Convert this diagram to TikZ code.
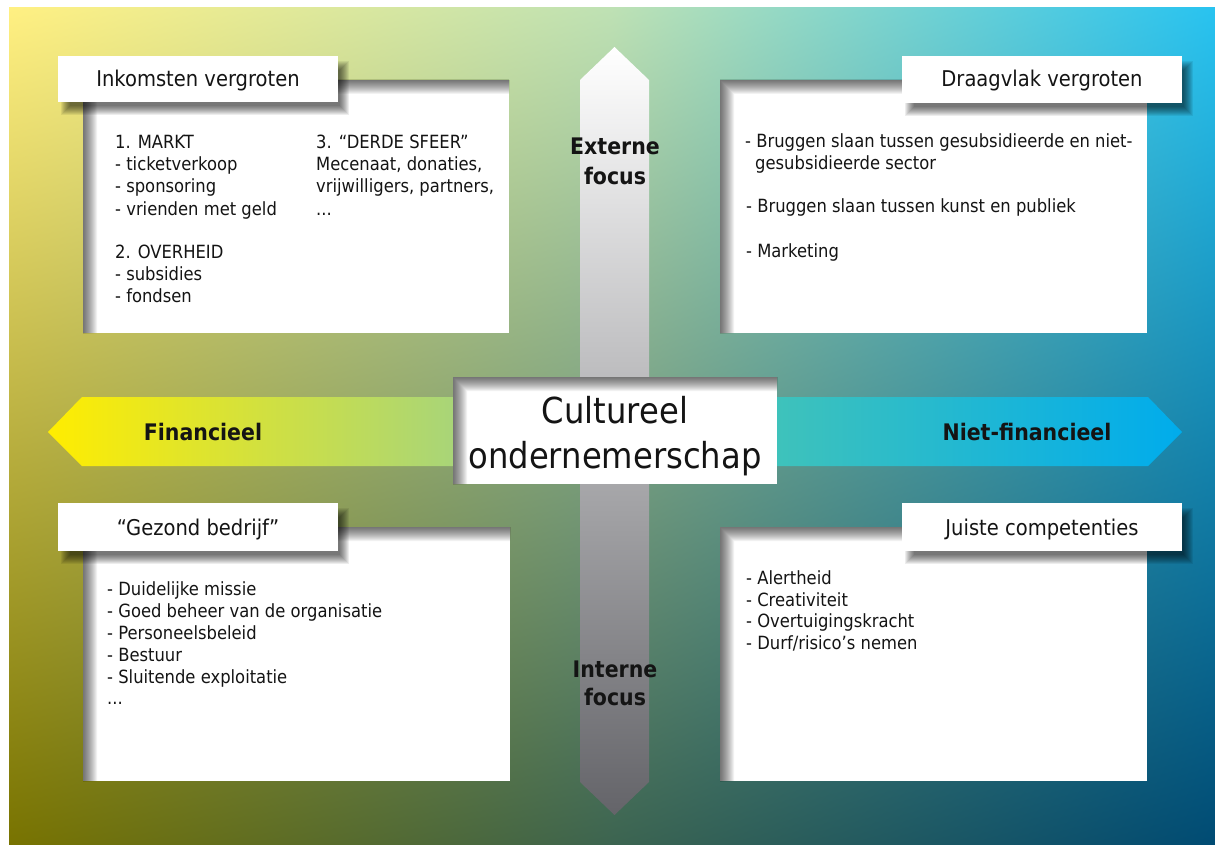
\documentclass[tikz,border=0pt]{standalone}
\usepackage{fontspec}
\usetikzlibrary{shadings}
\setmainfont{DejaVu Sans}[FakeStretch=0.9]
\definecolor{bgTL}{RGB}{255,240,130}
\definecolor{bgTC}{RGB}{190,225,180}
\definecolor{bgTR}{RGB}{40,195,240}
\definecolor{bgBL}{RGB}{120,115,0}
\definecolor{bgBC}{RGB}{60,100,80}
\definecolor{bgBR}{RGB}{0,75,115}
\definecolor{hylw}{RGB}{255,237,0}
\definecolor{hgrn}{RGB}{165,212,125}
\definecolor{hteal}{RGB}{65,195,185}
\definecolor{hblue}{RGB}{0,172,236}
\definecolor{vbot}{RGB}{100,100,105}
\definecolor{ink}{RGB}{20,20,20}
\newcommand{\qbox}[4]{%
  \fill[white] (#1,#2) rectangle (#3,#4);
  \foreach \i in {1,...,14}{%
    \fill[black,opacity=0.05] (#1,#2) rectangle (#3,#2+\i) (#1,#2) rectangle (#1+\i,#4);}%
}
\newcommand{\tbox}[4]{%
  \foreach \i in {0,...,9}{%
    \fill[black,opacity=0.07] (#1+12-\i,#2+14-\i) rectangle (#3+2+\i,#4+4+\i);}%
  \fill[white] (#1,#2) rectangle (#3,#4);
}
\begin{document}
\begin{tikzpicture}[x=1pt,y=-1pt,
  body/.style={font=\fontsize{18.2}{22}\selectfont, anchor=base west, inner sep=0pt, text=ink},
  ttl/.style={font=\fontsize{21.7}{26}\selectfont, anchor=base, inner sep=0pt, text=ink},
  lbl/.style={font=\bfseries\fontsize{22.8}{27}\selectfont, anchor=base, inner sep=0pt, text=ink},
  ctr/.style={font=\fontsize{35.8}{42}\selectfont, anchor=base, inner sep=0pt, text=ink}]
\useasboundingbox (0,0) rectangle (1215,845);
\fill[white] (0,0) rectangle (1215,845);
% background
\shade[upper left=bgTL, upper right=bgTC, lower left=bgBL, lower right=bgBC] (9,8) rectangle (612.5,845);
\shade[upper left=bgTC, upper right=bgTR, lower left=bgBC, lower right=bgBR] (612,8) rectangle (1215,845);
% arrows
\shade[top color=white, bottom color=vbot] (614.5,47) -- (649,80) -- (649,782) -- (614.5,815) -- (580,782) -- (580,80) -- cycle;
\shade[left color=hylw, right color=hgrn] (48,432) -- (82,397) -- (470,397) -- (470,466) -- (82,466) -- cycle;
\shade[left color=hteal, right color=hblue] (760,397) -- (1148,397) -- (1182,432) -- (1148,466) -- (760,466) -- cycle;
% content boxes
\qbox{83}{80}{509}{333}
\qbox{720}{80}{1147}{333}
\qbox{83}{527}{510}{781}
\qbox{720}{527}{1147}{781}
\qbox{453}{377}{777}{484}
% title boxes
\tbox{58}{56}{338}{102}
\tbox{902}{56}{1182}{103}
\tbox{58}{503}{338}{551}
\tbox{902}{503}{1182}{551}
% titles
\node[ttl] (t1) at (198,87) {Inkomsten vergroten};
\node[ttl] (t2) at (1042,87) {Draagvlak vergroten};
\node[ttl] (t3) at (198,535) {“Gezond bedrijf”};
\node[ttl] (t4) at (1042,535) {Juiste competenties};
% centre
\node[ctr] (c1) at (615,423) {Cultureel};
\node[ctr] (c2) at (615,468) {ondernemerschap};
% arrow labels
\node[lbl] (e1) at (615,155) {Externe};
\node[lbl] (e2) at (615,185) {focus};
\node[lbl] (i1) at (615,677) {Interne};
\node[lbl] (i2) at (615,705) {focus};
\node[lbl] (f1) at (203,440) {Financieel};
\node[lbl] (f2) at (1027,440) {Niet-financieel};
% TL body
\node[body] (a1) at (115,149) {1. MARKT};
\node[body] (a2) at (115,171) {- ticketverkoop};
\node[body] (a3) at (115,193) {- sponsoring};
\node[body] (a4) at (115,215) {- vrienden met geld};
\node[body] (a5) at (115,258) {2. OVERHEID};
\node[body] (a6) at (115,280) {- subsidies};
\node[body] (a7) at (115,302) {- fondsen};
\node[body] (b1) at (316,149) {3. “DERDE SFEER”};
\node[body] (b2) at (316,171) {Mecenaat, donaties,};
\node[body] (b3) at (316,193) {vrijwilligers, partners,};
\node[body] (b4) at (316,215) {...};
% TR body
\node[body] (d1) at (745,148) {- Bruggen slaan tussen gesubsidieerde en niet-};
\node[body] (d2) at (755,170) {gesubsidieerde sector};
\node[body] (d3) at (746,213) {- Bruggen slaan tussen kunst en publiek};
\node[body] (d4) at (746,257) {- Marketing};
% BL body
\node[body] (g1) at (107,595) {- Duidelijke missie};
\node[body] (g2) at (107,617) {- Goed beheer van de organisatie};
\node[body] (g3) at (107,639) {- Personeelsbeleid};
\node[body] (g4) at (107,661) {- Bestuur};
\node[body] (g5) at (107,683) {- Sluitende exploitatie};
\node[body] (g6) at (107,704) {...};
% BR body
\node[body] (j1) at (746,584) {- Alertheid};
\node[body] (j2) at (746,606) {- Creativiteit};
\node[body] (j3) at (746,627) {- Overtuigingskracht};
\node[body] (j4) at (746,649) {- Durf/risico’s nemen};
\end{tikzpicture}
\end{document}
